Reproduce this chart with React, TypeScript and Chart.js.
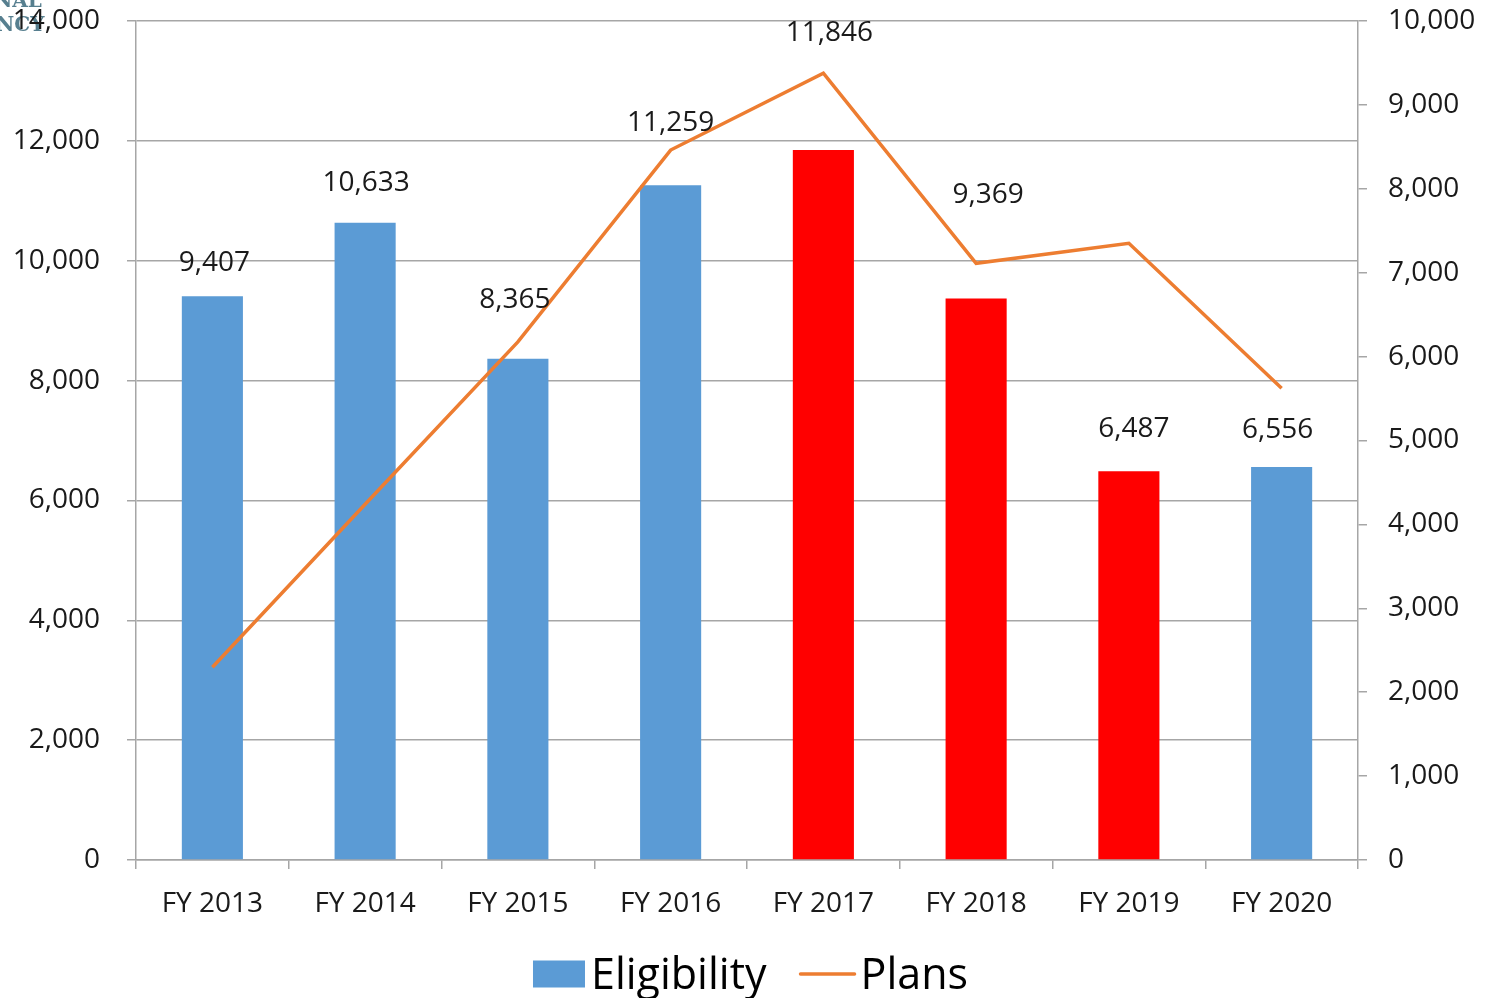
import React, { useEffect, useRef } from "react";
import { Chart, registerables } from "chart.js";

Chart.register(...registerables);

const categories = ["FY 2013", "FY 2014", "FY 2015", "FY 2016", "FY 2017", "FY 2018", "FY 2019", "FY 2020"];
const eligibility = [9407, 10633, 8365, 11259, 11846, 9369, 6487, 6556];
const plans = [2297, 4240, 6175, 8462, 9377, 7112, 7350, 5622];
const leftTickMax = 14000;
const leftTickStep = 2000;
const rightTickMax = 10000;
const rightTickStep = 1000;

const BLUE = "#5B9BD5";
const RED = "#FF0000";
const ORANGE = "#ED7D31";
const GRID = "#A6A6A6";
const barColors = [BLUE, BLUE, BLUE, BLUE, RED, RED, RED, BLUE];
// label placement (pixels) relative to the top of each bar
const labelNudgeX = [2, 1, -3, 0, 6, 12, 5, -4];
const labelLiftY = [33, 40, 59, 62, 117, 103, 42, 37];

const FONT = '"Open Sans", "DejaVu Sans", sans-serif';
const TICK_SIZE = 28;
const fmt = (v: number) => v.toLocaleString("en-US");

const barLabelPlugin = {
  id: "barLabels",
  afterDatasetsDraw(chart: any) {
    const ctx = chart.ctx;
    const meta = chart.getDatasetMeta(0);
    ctx.save();
    ctx.font = `${TICK_SIZE}px ${FONT}`;
    ctx.fillStyle = "#1a1a1a";
    ctx.textAlign = "center";
    ctx.textBaseline = "middle";
    meta.data.forEach((bar: any, i: number) => {
      ctx.fillText(fmt(eligibility[i]), bar.x + labelNudgeX[i], bar.y - labelLiftY[i]);
    });
    ctx.restore();
  },
};

const legendPlugin = {
  id: "customLegend",
  afterDraw(chart: any) {
    const ctx = chart.ctx;
    ctx.save();
    ctx.font = `43px ${FONT}`;
    ctx.textBaseline = "middle";
    ctx.textAlign = "left";
    const t1 = "Eligibility";
    const t2 = "Plans";
    const w1 = ctx.measureText(t1).width;
    const w2 = ctx.measureText(t2).width;
    const boxW = 52, boxH = 27, gap = 6, mid = 34, lineW = 54;
    const total = boxW + gap + w1 + mid + lineW + gap + w2;
    let x = chart.width / 2 + 5 - total / 2;
    const cy = 974;
    ctx.fillStyle = BLUE;
    ctx.fillRect(x, cy - boxH / 2, boxW, boxH);
    x += boxW + gap;
    ctx.fillStyle = "#000";
    ctx.fillText(t1, x, cy + 3);
    x += w1 + mid;
    ctx.strokeStyle = ORANGE;
    ctx.lineWidth = 3.5;
    ctx.lineCap = "round";
    ctx.beginPath();
    ctx.moveTo(x, cy);
    ctx.lineTo(x + lineW, cy);
    ctx.stroke();
    x += lineW + gap;
    ctx.fillText(t2, x, cy + 3);
    ctx.restore();
  },
};

const logoPlugin = {
  id: "logoFragment",
  beforeDraw(chart: any) {
    const ctx = chart.ctx;
    ctx.save();
    ctx.font = 'bold 20px "DejaVu Serif", serif';
    ctx.fillStyle = "rgba(45, 95, 115, 0.8)";
    ctx.textBaseline = "alphabetic";
    ctx.textAlign = "left";
    ctx.fillText("NAL", -6, 7);
    ctx.fillText("NCY", -4, 31);
    ctx.restore();
  },
};

export default function App() {
  const ref = useRef<HTMLCanvasElement | null>(null);
  useEffect(() => {
    if (!ref.current) return;
    const chart = new Chart(ref.current, {
      type: "bar",
      data: {
        labels: categories,
        datasets: [
          {
            type: "bar",
            label: "Eligibility",
            data: eligibility,
            backgroundColor: barColors,
            yAxisID: "y",
            barPercentage: 0.4,
            categoryPercentage: 1,
            order: 2,
          } as any,
          {
            type: "line",
            label: "Plans",
            data: plans,
            borderColor: ORANGE,
            backgroundColor: ORANGE,
            borderWidth: 3.5,
            pointRadius: 0,
            tension: 0,
            yAxisID: "y1",
            order: 1,
          } as any,
        ],
      },
      options: {
        animation: false,
        responsive: false,
        devicePixelRatio: 1,
        layout: { padding: { top: 21, left: 0, right: 0, bottom: 0 } },
        plugins: {
          legend: { display: false },
          tooltip: { enabled: false },
        },
        scales: {
          x: {
            offset: true,
            grid: {
              display: true,
              offset: true,
              drawOnChartArea: false,
              drawTicks: true,
              tickLength: 9,
              color: GRID,
              lineWidth: 1.5,
            },
            border: { display: true, color: GRID, width: 1.5 },
            ticks: { font: { family: FONT, size: TICK_SIZE }, color: "#1a1a1a", padding: 18, maxRotation: 0 },
            afterFit: (s: any) => {
              s.height = 138;
              s.paddingLeft = 0;
              s.paddingRight = 0;
            },
          },
          y: {
            position: "left",
            min: 0,
            max: leftTickMax,
            ticks: {
              stepSize: leftTickStep,
              font: { family: FONT, size: TICK_SIZE },
              color: "#1a1a1a",
              padding: 27,
              callback: (v: any) => fmt(Number(v)),
            },
            grid: { color: GRID, lineWidth: 1.5, tickLength: 9, drawTicks: true },
            border: { display: true, color: GRID, width: 1.5 },
            afterFit: (s: any) => {
              s.width = 136;
              s.paddingTop = 0;
              s.paddingBottom = 0;
            },
          },
          y1: {
            position: "right",
            min: 0,
            max: rightTickMax,
            ticks: {
              stepSize: rightTickStep,
              font: { family: FONT, size: TICK_SIZE },
              color: "#1a1a1a",
              padding: 21,
              callback: (v: any) => fmt(Number(v)),
            },
            grid: { drawOnChartArea: false, color: GRID, lineWidth: 1.5, tickLength: 9, drawTicks: true },
            border: { display: true, color: GRID, width: 1.5 },
            afterFit: (s: any) => {
              s.width = 133;
              s.paddingTop = 0;
              s.paddingBottom = 0;
            },
          },
        },
      } as any,
      plugins: [logoPlugin, barLabelPlugin, legendPlugin],
    });
    return () => chart.destroy();
  }, []);

  return (
    <div style={{ position: "fixed", left: 0, top: 0, width: 1491, height: 998, background: "#fff" }}>
      <canvas ref={ref} width={1491} height={998} style={{ width: 1491, height: 998, display: "block" }} />
    </div>
  );
}
